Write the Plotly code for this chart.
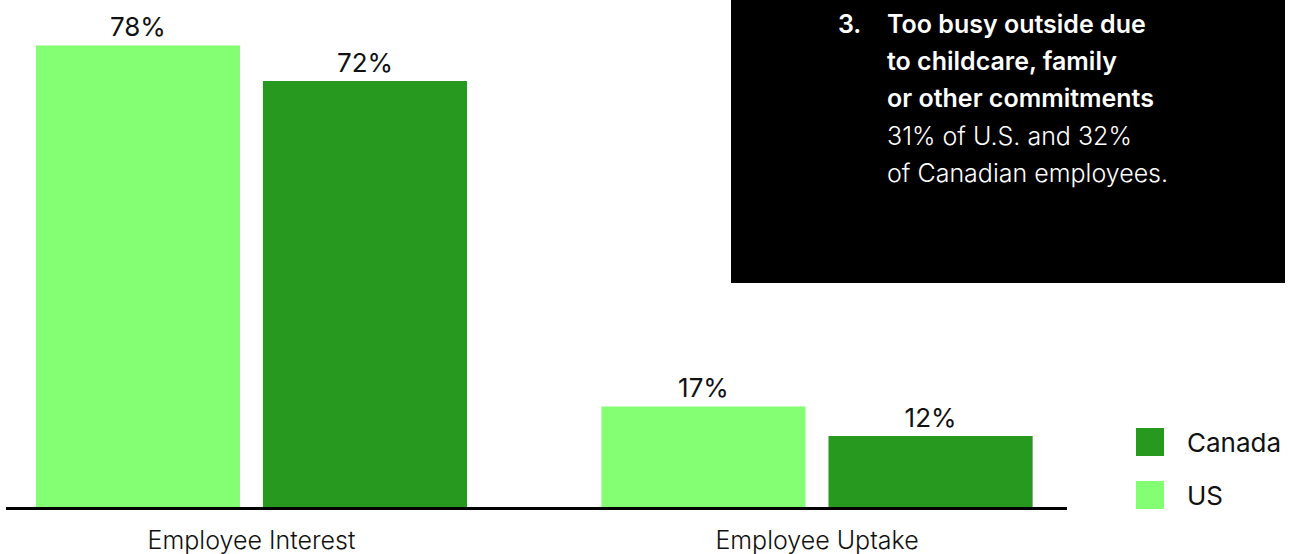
import plotly.graph_objects as go

# Survey results: interest in vs. uptake of the benefit, by country
categories = ["Employee Interest", "Employee Uptake"]
us_values = [78, 17]
canada_values = [72, 12]
series_names = ["US", "Canada"]
series_colors = ["#84FF74", "#27991F"]

# Callout text
callout_number = "3."
callout_bold = ["Too busy outside due", "to childcare, family", "or other commitments"]
callout_light = ["31% of U.S. and 32%", "of Canadian employees."]

W, H = 1290, 554
ML, MR, MT, MB = 6, 223, 0, 47
PW, PH = W - ML - MR, H - MT - MB

FONT = "Inter"


def px_x(px):
    return (px - ML) / PW


def px_y(py):
    return (H - MB - py) / PH


fig = go.Figure()
for name, vals, col in zip(series_names, [us_values, canada_values], series_colors):
    fig.add_trace(go.Bar(
        x=categories, y=vals, name=name, marker=dict(color=col, line=dict(width=0)),
        text=[f"{v}%" for v in vals], textposition="outside", cliponaxis=False,
        textfont=dict(family=FONT, size=26, color="#111111"),
        showlegend=False,
    ))

shapes = []
annotations = []

# Black callout box
shapes.append(dict(type="rect", xref="paper", yref="paper",
                   x0=px_x(731), x1=px_x(1285), y0=px_y(283), y1=px_y(0),
                   fillcolor="#000000", line=dict(width=0), layer="above"))

line_y = [24, 61, 98, 136, 173]
annotations.append(dict(xref="paper", yref="paper", x=px_x(836), y=px_y(line_y[0]),
                        text=callout_number, showarrow=False,
                        xanchor="left", yanchor="middle",
                        font=dict(family=FONT, size=25, color="white", weight=600)))
for i, t in enumerate(callout_bold + callout_light):
    bold = i < len(callout_bold)
    annotations.append(dict(xref="paper", yref="paper", x=px_x(885), y=px_y(line_y[i]),
                            text=t, showarrow=False,
                            xanchor="left", yanchor="middle",
                            font=dict(family=FONT, size=25, color="white",
                                      weight=600 if bold else 300)))

# Legend: Canada on top, US below
legend_rows = [(series_names[1], series_colors[1], 442), (series_names[0], series_colors[0], 495)]
for name, col, cy in legend_rows:
    shapes.append(dict(type="rect", xref="paper", yref="paper",
                       x0=px_x(1136), x1=px_x(1164), y0=px_y(cy + 14), y1=px_y(cy - 14),
                       fillcolor=col, line=dict(width=0)))
    annotations.append(dict(xref="paper", yref="paper", x=px_x(1185), y=px_y(cy),
                            text=name, showarrow=False, xanchor="left", yanchor="middle",
                            font=dict(family=FONT, size=26, color="#111111")))

fig.update_layout(
    width=W, height=H,
    margin=dict(l=ML, r=MR, t=MT, b=MB, pad=0, autoexpand=False),
    paper_bgcolor="white", plot_bgcolor="white",
    barmode="group", bargap=0.197, bargroupgap=0.101,
    showlegend=False,
    shapes=shapes, annotations=annotations,
    xaxis=dict(range=[-0.434, 1.442], showline=True, linecolor="#000000", linewidth=3,
               automargin=False,
               ticks="", showgrid=False, zeroline=False, ticklabelstandoff=9,
               tickfont=dict(family=FONT, size=25, color="#111111", weight=300)),
    yaxis=dict(range=[0, PH / 5.917], visible=False, showgrid=False, zeroline=False,
               automargin=False),
)

fig.write_html("out.html")
